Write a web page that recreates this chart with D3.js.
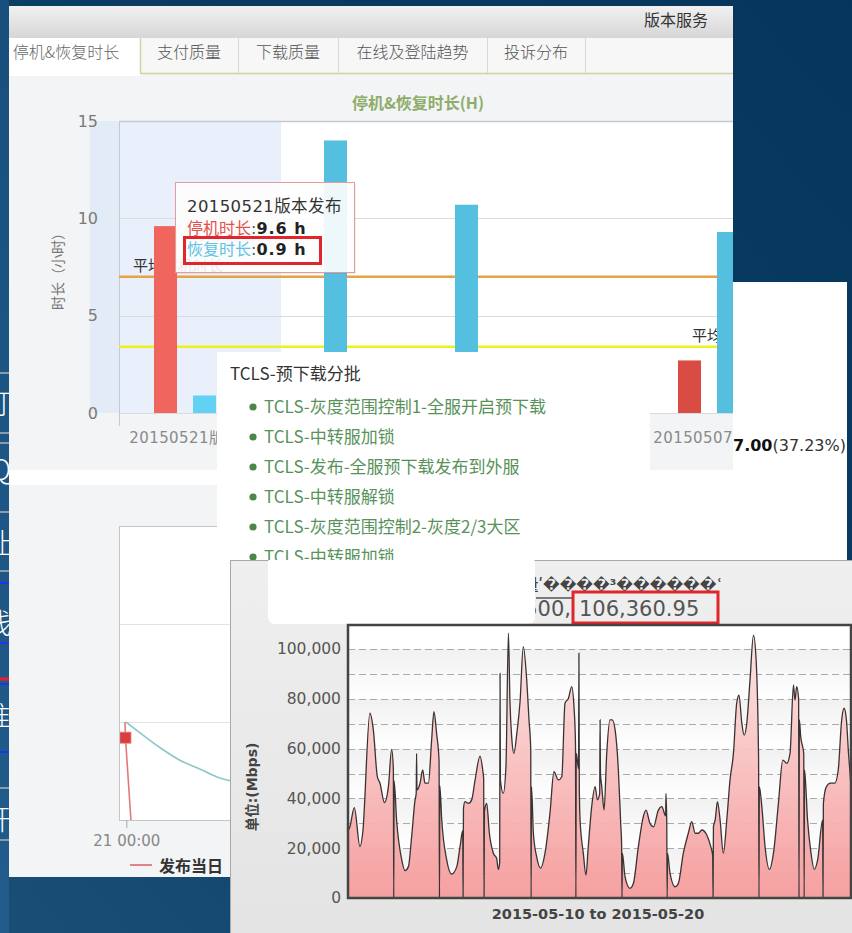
<!DOCTYPE html>
<html><head><meta charset="utf-8">
<script src="https://cdn.jsdelivr.net/npm/d3@7"></script>
<style>
body{margin:0;background:#0b3a5c;}
svg{display:block}
</style>
</head><body>
<svg id="c" width="852" height="933"></svg>
<script>
// ---------------- data ----------------
const tabs = ["停机&恢复时长", "支付质量", "下载质量", "在线及登陆趋势", "投诉分布"];
const releases = ["20150521版本发布", "20150518版本发布", "20150514版本发布", "20150512版本发布", "20150507版本发布"];
const downtimeHours = [9.6, 0, 0, 0, 2.7];
const recoveryHours = [0.9, 14.0, 10.7, 0, 9.3];
const avgDowntime = 7.0;
const avgRecovery = 3.4;
const durationTicks = [0, 5, 10, 15];

const batchTitle = "TCLS-预下载分批";
const batchSteps = [
  "TCLS-灰度范围控制1-全服开启预下载",
  "TCLS-中转服加锁",
  "TCLS-发布-全服预下载发布到外服",
  "TCLS-中转服解锁",
  "TCLS-灰度范围控制2-灰度2/3大区",
  "TCLS-中转服加锁"
];

// release-day trend: [hour, value]
const trendCurve = [[-0.04, 1.0], [0.55, 0.89], [1.38, 0.74], [2.22, 0.61], [3.06, 0.52], [3.77, 0.44], [4.73, 0.38], [6, 0.33], [8, 0.29]];
const releaseDayLine = [[-0.08, 1.0], [-0.06, 0.84], [0.17, 0]];
const trendTicks = [0, 1, 2, 3];

// bandwidth, 2015-05-10 00:00 + hours -> Mbps
const trafficTicks = [0, 20000, 40000, 60000, 80000, 100000];
const traffic = [
  [0, 27000], [1.0, 28600], [3.3, 36300], [6.3, 20600], [7.7, 26000], [11.5, 74200], [13.3, 67500],
  [15.4, 48700], [16.8, 46100], [19.1, 38300], [21.2, 44700], [22.9, 59700], [23.8, 52000], [24.0, 0],
  [24.2, 47000], [25.5, 31300], [28.2, 15300], [29.9, 11000], [31.7, 12600], [33.4, 24600], [35.2, 39400],
  [35.8, 42000], [36.0, 58100], [36.2, 43400], [37.8, 46100], [39.2, 51400], [40.4, 46100], [42.2, 46100],
  [43.9, 63500], [45.1, 74800], [46.5, 66100], [47.8, 55000], [48.0, 0], [48.2, 45000], [49.2, 31300],
  [51.8, 15300], [54.4, 9600], [57.1, 12600], [58.8, 20600], [60.2, 27000], [60.4, 0], [60.6, 36000],
  [61.4, 38700], [63.2, 38000], [64.9, 39400], [66.7, 47400], [69.3, 57000], [70.7, 51400], [71.2, 48000],
  [71.4, 0], [71.6, 34700], [72.8, 38000], [74.2, 26000], [76.3, 18000], [78.0, 16000], [78.9, 11500],
  [79.6, 14000], [79.8, 90200], [80.0, 47400], [81.5, 42000], [82.9, 52800], [84.2, 106360.95], [85.0, 78800],
  [85.9, 64800], [87.1, 58100], [88.6, 66100], [90.3, 78800], [92.0, 100900], [93.8, 87500], [95.0, 71500],
  [95.9, 60000], [96.1, 0], [96.3, 44700], [97.3, 26000], [99.0, 16600], [101.1, 12000], [103.4, 18000],
  [106.0, 34000], [108.1, 50700], [110.4, 47400], [112.2, 48700], [113.9, 78200], [115.7, 80200], [117.4, 84900],
  [118.6, 76800], [119.4, 62000], [119.6, 0], [119.8, 58100], [121.0, 52000], [121.2, 98300], [121.4, 45000],
  [121.8, 31300], [123.5, 18000], [124.9, 9200], [126.1, 20600], [127.9, 36700], [129.7, 44700], [130.9, 39400],
  [132.1, 42000], [132.3, 71500], [132.5, 50000], [133.2, 44700], [134.4, 35300], [135.8, 58100], [137.5, 71500],
  [138.7, 71500], [140.2, 67500], [141.9, 51400], [143.2, 28700], [143.6, 22000], [143.8, 0], [144.0, 18000],
  [145.4, 8600], [148.0, 3900], [149.8, 5900], [152.4, 20600], [155.0, 32700], [156.4, 35300], [158.5, 30000],
  [160.3, 28600], [162.9, 35300], [164.7, 36700], [166.7, 33000], [166.9, 42000], [167.3, 30000], [167.5, 0],
  [167.7, 18000], [169.0, 10000], [171.7, 4500], [173.4, 5900], [176.0, 18000], [178.6, 26000], [180.4, 30700],
  [182.2, 26000], [183.9, 26000], [185.7, 27300], [188.3, 25300], [190.4, 20600], [191.4, 17000], [191.6, 0],
  [191.8, 28700], [192.7, 31300], [193.9, 38700], [195.3, 31300], [197.0, 18000], [198.8, 31300], [200.5, 47400],
  [202.3, 58100], [204.0, 78200], [205.2, 81500], [206.7, 70200], [207.9, 65400], [209.3, 70200], [211.0, 87500],
  [212.8, 105600], [214.2, 95600], [215.4, 60800], [215.5, 55000], [215.7, 0], [215.9, 44700], [217.2, 36700],
  [218.9, 20600], [221.2, 11500], [223.3, 18000], [225.9, 38000], [228.2, 55400], [230.3, 54100], [232.0, 58100],
  [233.8, 85600], [234.6, 79500], [235.5, 84900], [236.5, 80000], [236.7, 0], [236.9, 71500], [237.6, 64800],
  [239.2, 58000], [239.4, 0], [239.6, 51400], [241.2, 31300], [243.0, 18000], [244.7, 11500], [246.5, 15300],
  [249.1, 31300], [249.3, 0], [249.5, 38000], [251.1, 44700], [253.2, 46100], [255.5, 46100], [257.3, 51400],
  [259.1, 71500], [260.4, 76200], [261.6, 71500], [262.7, 58100], [264, 45000]
];
const trafficAvg = 43500;
const trafficRange = "2015-05-10 to 2015-05-20";

// ---------------- helpers ----------------
const CJK = "'Noto Sans CJK SC', sans-serif";
const SANS = "'DejaVu Sans', 'Noto Sans CJK SC', sans-serif";
const svg = d3.select("#c");
const defs = svg.append("defs");
function clipRect(id, x, y, w, h) {
  defs.append("clipPath").attr("id", id).append("rect")
    .attr("x", x).attr("y", y).attr("width", w).attr("height", h);
  return `url(#${id})`;
}
function linGrad(id, stops, x1, y1, x2, y2, user) {
  const g = defs.append("linearGradient").attr("id", id)
    .attr("x1", x1).attr("y1", y1).attr("x2", x2).attr("y2", y2);
  if (user) g.attr("gradientUnits", "userSpaceOnUse");
  stops.forEach(([o, c]) => g.append("stop").attr("offset", o).attr("stop-color", c));
  return `url(#${id})`;
}
// shorten a label with an ellipsis until it fits the given width
function ellipsize(sel, maxW) {
  sel.each(function () {
    const t = d3.select(this);
    let s = t.text();
    while (this.getComputedTextLength() > maxW && s.length > 1) {
      s = s.slice(0, -1);
      t.text(s + "…");
    }
  });
}

// ---------------- backdrop ----------------
svg.append("rect").attr("width", 852).attr("height", 933)
  .attr("fill", linGrad("bg", [[0, "#05355a"], [0.55, "#0c3f64"], [1, "#1a4e77"]], "1", "0", "0", "1"));

// left side-menu fragment
const side = svg.append("g").attr("clip-path", clipRect("sideClip", 0, 0, 9, 933));
side.append("rect").attr("x", 0).attr("y", 0).attr("width", 9).attr("height", 933)
  .attr("fill", linGrad("sideG", [[0, "#184f7c"], [1, "#225c8c"]], "0", "0", "0", "1"));
[[373, "#8a9bb0"], [433, "#8a9bb0"], [443, "#8a9bb0"], [512, "#8a9bb0"], [571, "#8a9bb0"], [583, "#2233ee"],
 [643, "#2233ee"], [679, "#ee2020"], [684, "#2233ee"], [752, "#2233ee"], [788, "#8a9bb0"], [840, "#8a9bb0"]]
  .forEach(([y, c]) => side.append("line").attr("x1", 0).attr("x2", 9).attr("y1", y).attr("y2", y)
    .attr("stroke", c).attr("stroke-width", c === "#ee2020" ? 3 : 2));
[["订", 414], ["Q", 480], ["址", 554], ["线", 634], ["准", 727], ["开", 830]].forEach(([t, y]) =>
  side.append("text").attr("x", 11).attr("y", y).attr("text-anchor", "end")
    .attr("font-family", CJK).attr("font-size", 28).attr("font-weight", 300).attr("fill", "#ffffff").text(t));

// share panel fragment (right)
const share = svg.append("g");
share.append("rect").attr("x", 640).attr("y", 282).attr("width", 207).attr("height", 280).attr("fill", "#ffffff");
const shareText = share.append("text").attr("x", 846).attr("y", 451).attr("text-anchor", "end")
  .attr("font-family", SANS).attr("font-size", 16).attr("fill", "#333");
shareText.append("tspan").attr("font-weight", "bold").attr("fill", "#111").text("67.00");
shareText.append("tspan").text("(37.23%)");

// ---------------- panel 1 : downtime & recovery ----------------
const p1 = svg.append("g").attr("clip-path", clipRect("p1Clip", 9, 6, 724, 464));
p1.append("rect").attr("x", 9).attr("y", 6).attr("width", 724).attr("height", 464).attr("fill", "#f2f4f5");
p1.append("rect").attr("x", 9).attr("y", 6).attr("width", 724).attr("height", 32)
  .attr("fill", linGrad("hdr", [[0, "#f1f1f1"], [1, "#d6d6d6"]], "0", "0", "0", "1"));
p1.append("text").attr("x", 708).attr("y", 26).attr("text-anchor", "end")
  .attr("font-family", CJK).attr("font-size", 16).attr("fill", "#333").text("版本服务");

// tab strip
const tabEdges = [-8, 140, 238, 338, 487, 585];
p1.append("rect").attr("x", 9).attr("y", 38).attr("width", 724).attr("height", 36).attr("fill", "#f7f7f7");
p1.append("rect").attr("x", 9).attr("y", 38).attr("width", 131).attr("height", 38).attr("fill", "#ffffff");
p1.append("line").attr("x1", 140).attr("x2", 733).attr("y1", 73.5).attr("y2", 73.5)
  .attr("stroke", "#c9d59c").attr("stroke-width", 1.5);
tabEdges.slice(1).forEach((x, i) => p1.append("line").attr("x1", x + 0.5).attr("x2", x + 0.5)
  .attr("y1", 38).attr("y2", 73).attr("stroke", i === 0 ? "#c9d59c" : "#d9d9d9").attr("stroke-width", i === 0 ? 1.5 : 1));
tabs.forEach((t, i) => {
  const cx = (tabEdges[i] + tabEdges[i + 1]) / 2;
  p1.append("text").attr("x", cx).attr("y", 58).attr("text-anchor", "middle")
    .attr("font-family", CJK).attr("font-size", 16).attr("font-weight", 300)
    .attr("fill", i === 0 ? "#666" : "#555").text(t);
});

p1.append("text").attr("x", 418).attr("y", 109).attr("text-anchor", "middle")
  .attr("font-family", CJK).attr("font-size", 16).attr("font-weight", "bold").attr("fill", "#8fac6b")
  .text("停机&恢复时长(H)");

const plot1 = {left: 119, top: 121, bottom: 413, right: 733};
const yD = d3.scaleLinear().domain([0, 15]).range([plot1.bottom, plot1.top]);
const x0 = d3.scaleBand().domain(releases).range([plot1.left, plot1.left + 131 * releases.length]);
const seriesKeys = ["down", "recover"];
const x1 = d3.scaleBand().domain(seriesKeys).range([35, 97]).paddingInner(16 / 39);

p1.append("rect").attr("x", 90).attr("y", plot1.top).attr("width", 29).attr("height", plot1.bottom - plot1.top).attr("fill", "#e3ecf6");
p1.append("rect").attr("x", plot1.left).attr("y", plot1.top).attr("width", plot1.right - plot1.left)
  .attr("height", plot1.bottom - plot1.top).attr("fill", "#ffffff");
p1.append("rect").attr("x", plot1.left).attr("y", plot1.top).attr("width", 162)
  .attr("height", plot1.bottom - plot1.top).attr("fill", "#e9f0fb");

durationTicks.forEach(v => p1.append("line").attr("x1", plot1.left).attr("x2", plot1.right)
  .attr("y1", Math.round(yD(v)) + 0.5).attr("y2", Math.round(yD(v)) + 0.5)
  .attr("stroke", v === 15 ? "#c3c9cf" : "#d9dcdf").attr("stroke-width", v === 15 ? 1.5 : 1));
p1.append("line").attr("x1", plot1.left + 0.5).attr("x2", plot1.left + 0.5).attr("y1", plot1.top).attr("y2", 426)
  .attr("stroke", "#c2cad2");

const yAx1 = p1.append("g").attr("transform", `translate(${plot1.left},0)`)
  .call(d3.axisLeft(yD).tickValues(durationTicks).tickSize(0).tickPadding(21));
yAx1.select(".domain").remove();
yAx1.selectAll("text").attr("font-family", SANS).attr("font-size", 16).attr("fill", "#7a7a7a");
p1.append("text").attr("transform", "translate(63,268) rotate(-90)").attr("text-anchor", "middle")
  .attr("font-family", CJK).attr("font-size", 14).attr("fill", "#777").text("时长（小时）");

const xAx1 = p1.append("g").attr("transform", `translate(0,${plot1.bottom})`)
  .call(d3.axisBottom(x0).tickSize(0).tickPadding(19));
xAx1.select(".domain").remove();
xAx1.selectAll("text").attr("font-family", SANS).attr("font-size", 15).attr("letter-spacing", 0.4).attr("fill", "#8a8a8a")
  .call(ellipsize, 120);

// average lines + labels
p1.append("line").attr("x1", plot1.left).attr("x2", plot1.right).attr("y1", yD(avgDowntime)).attr("y2", yD(avgDowntime))
  .attr("stroke", "#e5a444").attr("stroke-width", 2.5);
p1.append("line").attr("x1", plot1.left).attr("x2", plot1.right).attr("y1", yD(avgRecovery)).attr("y2", yD(avgRecovery))
  .attr("stroke", "#eef21c").attr("stroke-width", 2.5);
p1.append("text").attr("x", 133).attr("y", yD(avgDowntime) - 6).attr("font-family", CJK).attr("font-size", 15)
  .attr("fill", "#333").text("平均停机时长");
p1.append("text").attr("x", 692).attr("y", yD(avgRecovery) - 6).attr("font-family", CJK).attr("font-size", 15)
  .attr("fill", "#333").text("平均恢复时长");

// bars (first release is the hovered one)
const hovered = 0;
const colors = {down: ["#f0655e", "#d94c44"], recover: ["#62d2f4", "#55bfe0"]};
const rows = releases.map((r, i) => ({r, i, down: downtimeHours[i], recover: recoveryHours[i]}));
const groups = p1.append("g").selectAll("g").data(rows).join("g")
  .attr("transform", d => `translate(${x0(d.r)},0)`);
groups.selectAll("rect").data(d => seriesKeys.map(k => ({k, v: d[k], i: d.i}))).join("rect")
  .attr("x", d => x1(d.k)).attr("width", x1.bandwidth())
  .attr("y", d => yD(d.v)).attr("height", d => yD(0) - yD(d.v))
  .attr("fill", d => colors[d.k][d.i === hovered ? 0 : 1]);

// tooltip
const tip = p1.append("g").attr("transform", "translate(175,182)");
tip.append("rect").attr("x", 2).attr("y", 2).attr("width", 179).attr("height", 90).attr("fill", "#000").attr("opacity", 0.06);
tip.append("rect").attr("x", 0.5).attr("y", 0.5).attr("width", 179).attr("height", 90)
  .attr("fill", "#ffffff").attr("fill-opacity", 0.9).attr("stroke", "#e79a9a");
tip.append("text").attr("x", 12).attr("y", 30).attr("font-family", SANS).attr("font-size", 16.5)
  .attr("letter-spacing", 0.4).attr("fill", "#333").text(releases[hovered]);
const fmtH = v => d3.format(".1f")(v) + " h";
[["停机时长", "#e4504a", downtimeHours[hovered], 52], ["恢复时长", "#5cc3e4", recoveryHours[hovered], 73]]
  .forEach(([lab, c, v, y]) => {
    const t = tip.append("text").attr("x", 12).attr("y", y).attr("font-size", 16);
    t.append("tspan").attr("font-family", CJK).attr("fill", c).text(lab);
    t.append("tspan").attr("font-family", SANS).attr("fill", "#555").text(":");
    t.append("tspan").attr("font-family", SANS).attr("font-weight", "bold").attr("fill", "#222").attr("letter-spacing", 1).text(fmtH(v));
  });
tip.append("rect").attr("x", 9.5).attr("y", 55.5).attr("width", 136).attr("height", 26)
  .attr("fill", "none").attr("stroke", "#e0262a").attr("stroke-width", 3);

// ---------------- panel 2 : release-day trend ----------------
const p2 = svg.append("g").attr("clip-path", clipRect("p2Clip", 9, 470, 631, 407));
p2.append("rect").attr("x", 9).attr("y", 470).attr("width", 700).attr("height", 407).attr("fill", "#f2f4f5");
p2.append("rect").attr("x", 9).attr("y", 470).attr("width", 700).attr("height", 15).attr("fill", "#ffffff");
const plot2 = {left: 119, top: 526, bottom: 820, right: 700};
const xR = d3.scaleLinear().domain([-0.33, 24]).range([plot2.left, plot2.right]);
const yR = d3.scaleLinear().domain([0, 3]).range([plot2.bottom, plot2.top]);
p2.append("rect").attr("x", plot2.left + 0.5).attr("y", plot2.top + 0.5).attr("width", plot2.right - plot2.left)
  .attr("height", plot2.bottom - plot2.top).attr("fill", "#fff").attr("stroke", "#c6c6c6");
trendTicks.slice(1, -1).forEach(v => p2.append("line").attr("x1", plot2.left + 1).attr("x2", plot2.right)
  .attr("y1", Math.round(yR(v)) + 0.5).attr("y2", Math.round(yR(v)) + 0.5).attr("stroke", "#e3e3e3"));
const g2 = p2.append("g").attr("clip-path", clipRect("plot2Clip", plot2.left + 1, plot2.top, plot2.right - plot2.left, plot2.bottom - plot2.top + 1));
g2.append("path").datum(trendCurve).attr("fill", "none").attr("stroke", "#8dc7c8").attr("stroke-width", 1.6)
  .attr("d", d3.line().x(d => xR(d[0])).y(d => yR(d[1])).curve(d3.curveMonotoneX));
g2.append("path").datum(releaseDayLine).attr("fill", "none").attr("stroke", "#e07a7a").attr("stroke-width", 1.6)
  .attr("d", d3.line().x(d => xR(d[0])).y(d => yR(d[1])));
g2.append("rect").attr("x", xR(releaseDayLine[1][0]) - 5.5).attr("y", yR(releaseDayLine[1][1]) - 5.5)
  .attr("width", 11).attr("height", 11).attr("fill", "#d93f3f").attr("stroke", "#e77").attr("stroke-width", 0.8);
p2.append("line").attr("x1", xR(0)).attr("x2", xR(0)).attr("y1", plot2.bottom).attr("y2", plot2.bottom + 8).attr("stroke", "#aaa");
p2.append("text").attr("x", xR(0)).attr("y", 846).attr("text-anchor", "middle").attr("font-family", SANS)
  .attr("font-size", 15).attr("fill", "#888").text("21 00:00");
p2.append("line").attr("x1", 130).attr("x2", 152).attr("y1", 865).attr("y2", 865).attr("stroke", "#e08585").attr("stroke-width", 2);
p2.append("text").attr("x", 159).attr("y", 872).attr("font-family", CJK).attr("font-size", 16).attr("font-weight", "bold")
  .attr("fill", "#333").text("发布当日");

// ---------------- batch popup ----------------
const pop = svg.append("g").attr("clip-path", clipRect("popClip", 217, 352, 433, 209));
pop.append("rect").attr("x", 217).attr("y", 352).attr("width", 433).attr("height", 209).attr("fill", "#ffffff");
pop.append("text").attr("x", 230).attr("y", 380).attr("font-family", CJK).attr("font-size", 17).attr("fill", "#333").text(batchTitle);
batchSteps.forEach((s, i) => {
  const cy = 407 + i * 30;
  pop.append("circle").attr("cx", 253).attr("cy", cy).attr("r", 3.6).attr("fill", "#4b874b");
  pop.append("text").attr("x", 264).attr("y", cy + 6).attr("font-family", CJK).attr("font-size", 17)
    .attr("fill", "#58925a").text(s);
});

// ---------------- panel 3 : bandwidth ----------------
const p3 = svg.append("g").attr("clip-path", clipRect("p3Clip", 230, 560, 622, 373));
p3.append("rect").attr("x", 230.5).attr("y", 560.5).attr("width", 640).attr("height", 400)
  .attr("fill", linGrad("p3bg", [[0, "#efefef"], [1, "#e3e3e3"]], "0", "0", "0", "1")).attr("stroke", "#a8a8a8");

const plot3 = {left: 348, top: 625, bottom: 898, right: 851};
const xT = d3.scaleLinear().domain([0, 264]).range([plot3.left, plot3.right]);
const yT = d3.scaleLinear().domain([0, 100000]).range([plot3.bottom, 649]);
const trafficPeak = d3.max(traffic, d => d[1]);

// caption (encoding-broken) with average and peak values
p3.append("text").attr("x", 722).attr("y", 590).attr("text-anchor", "end").attr("font-family", SANS)
  .attr("font-size", 15).attr("font-weight", "bold").attr("fill", "#444").text("最大流量ʹ����³������ʿ");
p3.append("line").attr("x1", 536).attr("x2", 574).attr("y1", 598).attr("y2", 598).attr("stroke", "#555").attr("stroke-width", 1.5);
p3.append("text").attr("x", 571).attr("y", 616).attr("text-anchor", "end").attr("font-family", SANS)
  .attr("font-size", 21).attr("fill", "#555").text(d3.format(",")(trafficAvg) + ",");
p3.append("text").attr("x", 579).attr("y", 616).attr("font-family", SANS)
  .attr("font-size", 21).attr("fill", "#555").text(d3.format(",.2f")(trafficPeak));
p3.append("rect").attr("x", 573).attr("y", 592).attr("width", 145).attr("height", 31)
  .attr("fill", "none").attr("stroke", "#e0262a").attr("stroke-width", 3);
p3.append("rect").attr("x", 268).attr("y", 556).attr("width", 267).attr("height", 68).attr("rx", 7).attr("fill", "#ffffff");

// plot background bands
const bandGrad = linGrad("band", [[0, "#f1f1f1"], [1, "#ffffff"]], "0", "0", "0", "1");
p3.append("rect").attr("x", plot3.left).attr("y", plot3.top).attr("width", plot3.right - plot3.left)
  .attr("height", plot3.bottom - plot3.top).attr("fill", "#ffffff");
d3.range(0, 100000, 20000).forEach(v => p3.append("rect").attr("x", plot3.left).attr("width", plot3.right - plot3.left)
  .attr("y", yT(v + 20000)).attr("height", yT(v) - yT(v + 20000)).attr("fill", bandGrad));

const g3 = p3.append("g").attr("clip-path", clipRect("plot3Clip", plot3.left, plot3.top, plot3.right - plot3.left, plot3.bottom - plot3.top));
d3.range(10000, 110000, 10000).forEach(v => g3.append("line").attr("x1", plot3.left).attr("x2", plot3.right)
  .attr("y1", Math.round(yT(v)) + 0.5).attr("y2", Math.round(yT(v)) + 0.5)
  .attr("stroke", "#ababab").attr("stroke-dasharray", "7,4"));
const areaFill = linGrad("areaG", [[0, "#fde6e6"], [1, "#f59b9b"]], 0, plot3.top, 0, plot3.bottom, true);
g3.append("path").datum(traffic).attr("fill", areaFill).attr("fill-opacity", 0.95)
  .attr("d", d3.area().x(d => xT(d[0])).y0(yT(0)).y1(d => yT(d[1])).curve(d3.curveMonotoneX));
g3.append("path").datum(traffic).attr("fill", "none").attr("stroke", "#3a3333").attr("stroke-width", 1.3)
  .attr("d", d3.line().x(d => xT(d[0])).y(d => yT(d[1])).curve(d3.curveMonotoneX));
p3.append("rect").attr("x", plot3.left).attr("y", plot3.top).attr("width", plot3.right - plot3.left)
  .attr("height", plot3.bottom - plot3.top).attr("fill", "none").attr("stroke", "#444").attr("stroke-width", 2.5);

const yAx3 = p3.append("g").attr("transform", `translate(${plot3.left},0)`)
  .call(d3.axisLeft(yT).tickValues(trafficTicks).tickFormat(d3.format(",")).tickSize(0).tickPadding(7));
yAx3.select(".domain").remove();
yAx3.selectAll("text").attr("font-family", SANS).attr("font-size", 15.5).attr("fill", "#555");
p3.append("text").attr("transform", "translate(257,787) rotate(-90)").attr("text-anchor", "middle")
  .attr("font-family", SANS).attr("font-size", 14).attr("font-weight", "bold").attr("fill", "#444").text("单位:(Mbps)");
p3.append("text").attr("x", 598).attr("y", 919).attr("text-anchor", "middle").attr("font-family", SANS)
  .attr("font-size", 14.5).attr("font-weight", "bold").attr("fill", "#444").text(trafficRange);
</script>
</body></html>
